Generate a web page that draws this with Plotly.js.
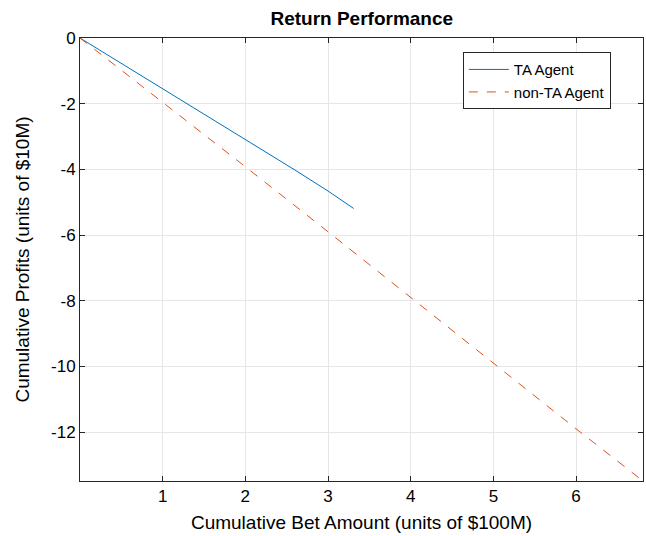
<!DOCTYPE html>
<html>
<head>
<meta charset="utf-8">
<script src="https://cdn.plot.ly/plotly-3.0.1.min.js"></script>
<style>html,body{margin:0;padding:0;background:#fff;}#chart{width:646px;height:536px;}</style>
</head>
<body>
<div id="chart"></div>
<script>
// Data
const taBet = [0, 0.5, 1.0, 1.27, 1.5, 2.0, 2.3, 2.6, 3.0, 3.15, 3.31];
const taProfit = [0, -0.77, -1.54, -1.98, -2.33, -3.08, -3.55, -4.02, -4.66, -4.91, -5.19];
const nonTaBet = [0, 1, 2, 3, 4, 5, 6, 6.81];
const nonTaProfit = [0, -1.95, -3.92, -5.9, -7.9, -9.88, -11.9, -13.49];
const xTicks = [1, 2, 3, 4, 5, 6];
const yTicks = [0, -2, -4, -6, -8, -10, -12];
const yTickText = ["0", "-2", "-4", "-6", "-8", "-10", "-12"];

const font = "Liberation Sans, Arial, Helvetica, sans-serif";
const axisCol = "#262626";

const traces = [
  {x: taBet, y: taProfit, mode: "lines", name: "TA Agent",
   line: {color: "#0072BD", width: 1}},
  {x: nonTaBet, y: nonTaProfit, mode: "lines", name: "non-TA Agent",
   line: {color: "#D95319", width: 1, dash: "dash"}}
];

const layout = {
  width: 646, height: 536,
  margin: {l: 80, r: 3, t: 38, b: 55},
  paper_bgcolor: "#fff", plot_bgcolor: "#fff",
  font: {family: font, size: 17, color: "#000"},
  title: {text: "<b>Return Performance</b>", font: {family: font, size: 19, color: "#000"},
          x: 0.56, xanchor: "center", y: 0.965, yanchor: "middle"},
  xaxis: {
    range: [0, 6.81], tickvals: xTicks, ticktext: xTicks.map(String),
    ticks: "inside", ticklen: 5, tickcolor: axisCol, tickwidth: 1,
    showline: true, linecolor: axisCol, linewidth: 1, mirror: "ticks",
    showgrid: true, gridcolor: "#e6e6e6", gridwidth: 1, zeroline: false,
    tickfont: {family: font, size: 17, color: "#000"},
    title: {text: "Cumulative Bet Amount (units of $100M)", font: {family: font, size: 19, color: "#000"}, standoff: 10}
  },
  yaxis: {
    range: [-13.49, 0], tickvals: yTicks, ticktext: yTickText,
    ticks: "inside", ticklen: 5, tickcolor: axisCol, tickwidth: 1,
    showline: true, linecolor: axisCol, linewidth: 1, mirror: "ticks",
    showgrid: true, gridcolor: "#e6e6e6", gridwidth: 1, zeroline: false,
    tickfont: {family: font, size: 17, color: "#000"},
    title: {text: "Cumulative Profits (units of $10M)", font: {family: font, size: 19, color: "#000"}, standoff: 16}
  },
  legend: {x: 0.68, y: 0.968, xanchor: "left", yanchor: "top",
           bgcolor: "#fff", bordercolor: axisCol, borderwidth: 1,
           font: {family: font, size: 15, color: "#000"},
           tracegroupgap: 0, itemwidth: 40},
  showlegend: true
};

Plotly.newPlot("chart", traces, layout, {staticPlot: true, displayModeBar: false});
</script>
</body>
</html>
